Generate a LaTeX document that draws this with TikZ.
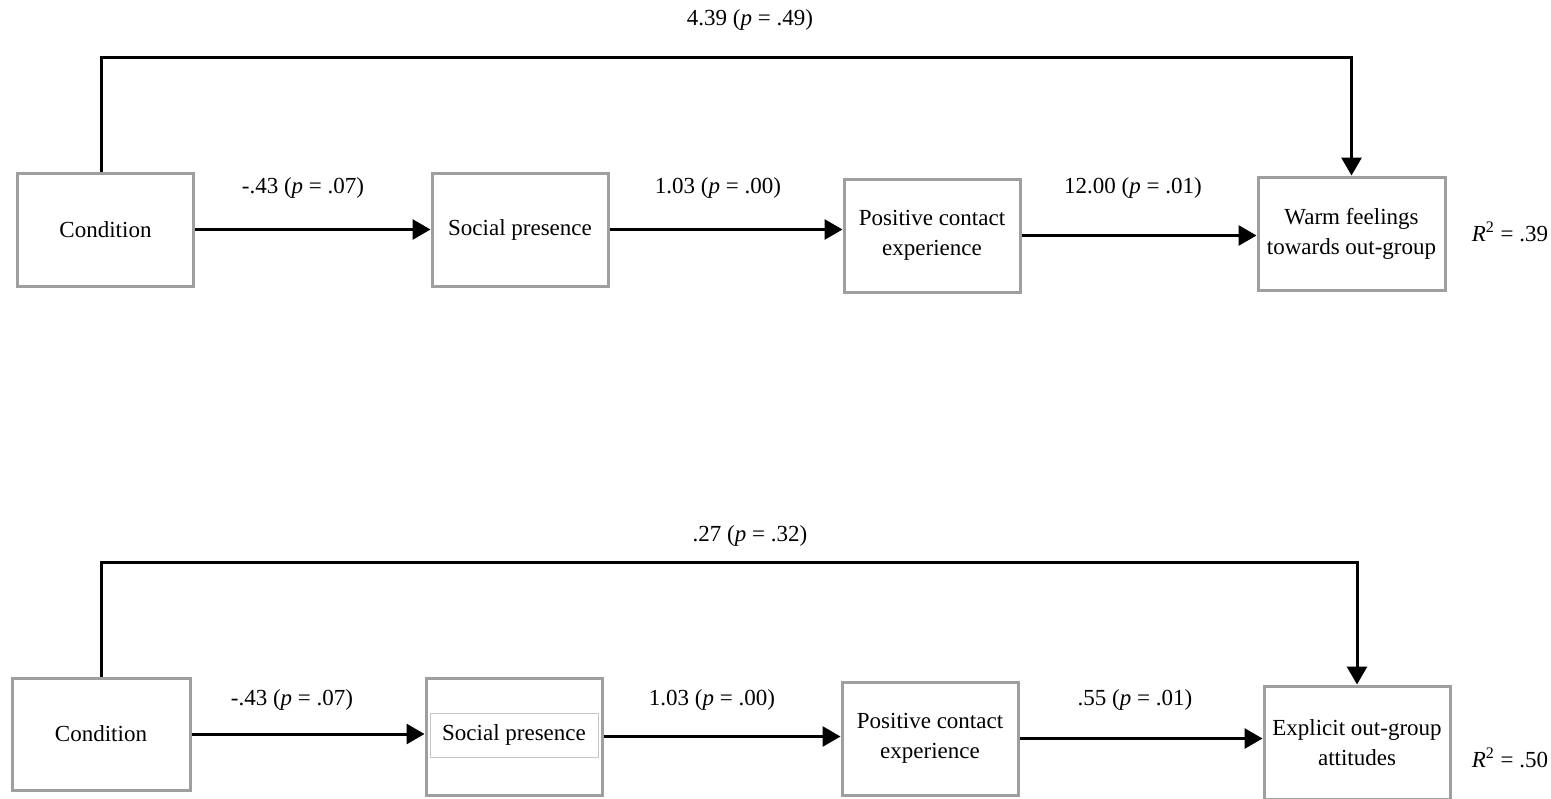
\documentclass[tikz,border=0pt]{standalone}
\usepackage{fontspec}
\setmainfont{Liberation Serif}
\usetikzlibrary{arrows.meta, positioning}

\begin{document}
\begin{tikzpicture}[x=0.5pt, y=-0.5pt,
    box/.style={draw=gray!75, line width=1.5pt, fill=white, align=center,
        minimum width=88pt, minimum height=56.5pt, inner sep=2pt,
        font=\fontsize{11.5}{15}\selectfont},
    arr/.style={line width=1.5pt, -{Triangle[length=9pt, width=10pt]}},
    lbl/.style={inner sep=2pt, font=\fontsize{11.5}{15}\selectfont}]
    % Page frame
    \useasboundingbox[fill=white] (0,0) rectangle (1551,798);

    % Top model: boxes
    \node[box] (cond1) at (105.5,229.5) {Condition};
    \node[box] (sp1) at (520,229.5) {Social presence};
    \node[box] (pc1) at (932,235.5) {Positive contact\\experience};
    \node[box, minimum width=93.5pt] (warm1) at (1351.5,233.5) {Warm feelings\\towards out-group};
    \node[lbl] (r1) at (1510,232) {\textit{R}\textsuperscript{2} = .39};

    % Top model: paths
    \draw[arr] (cond1.east) -- (cond1.east -| sp1.west);
    \draw[arr] (sp1.east) -- (sp1.east -| pc1.west);
    \draw[arr] (pc1.east) -- (pc1.east -| warm1.west);
    \node[lbl] (a1) at (303,188) {-.43 (\textit{p} = .07)};
    \node[lbl] (b1) at (718,188) {1.03 (\textit{p} = .00)};
    \node[lbl] (c1) at (1133,188) {12.00 (\textit{p} = .01)};

    % Top model: direct path
    \coordinate (top1) at (101,57);
    \draw[arr] (cond1.north -| top1) -- (top1) -| (warm1.north);
    \node[lbl] (d1) at (750,20) {4.39 (\textit{p} = .49)};

    % Bottom model: boxes
    \node[box, minimum width=89pt, minimum height=56pt] (cond2) at (101,734) {Condition};
    \node[box, minimum height=58.5pt] (sp2) at (514,736.5) {};
    \node[draw=gray!45, line width=0.4pt, minimum width=84pt, minimum height=22pt, inner sep=0pt,
        font=\fontsize{11.5}{15}\selectfont] (sp2in) at (514,735) {Social presence};
    \node[box] (pc2) at (930,738.5) {Positive contact\\experience};
    \node[box, minimum width=93pt] (expl) at (1357,742.5) {Explicit out-group\\attitudes};
    \node[lbl] (r2) at (1510,758) {\textit{R}\textsuperscript{2} = .50};

    % Bottom model: paths
    \draw[arr] (cond2.east) -- (cond2.east -| sp2.west);
    \draw[arr] (sp2.east) -- (sp2.east -| pc2.west);
    \draw[arr] (pc2.east) -- (pc2.east -| expl.west);
    \node[lbl] (a2) at (292,700) {-.43 (\textit{p} = .07)};
    \node[lbl] (b2) at (712,700) {1.03 (\textit{p} = .00)};
    \node[lbl] (c2) at (1135,700) {.55 (\textit{p} = .01)};

    % Bottom model: direct path
    \coordinate (top2) at (101,562);
    \draw[arr] (cond2.north -| top2) -- (top2) -| (expl.north);
    \node[lbl] (d2) at (750,536) {.27 (\textit{p} = .32)};
\end{tikzpicture}
\end{document}
